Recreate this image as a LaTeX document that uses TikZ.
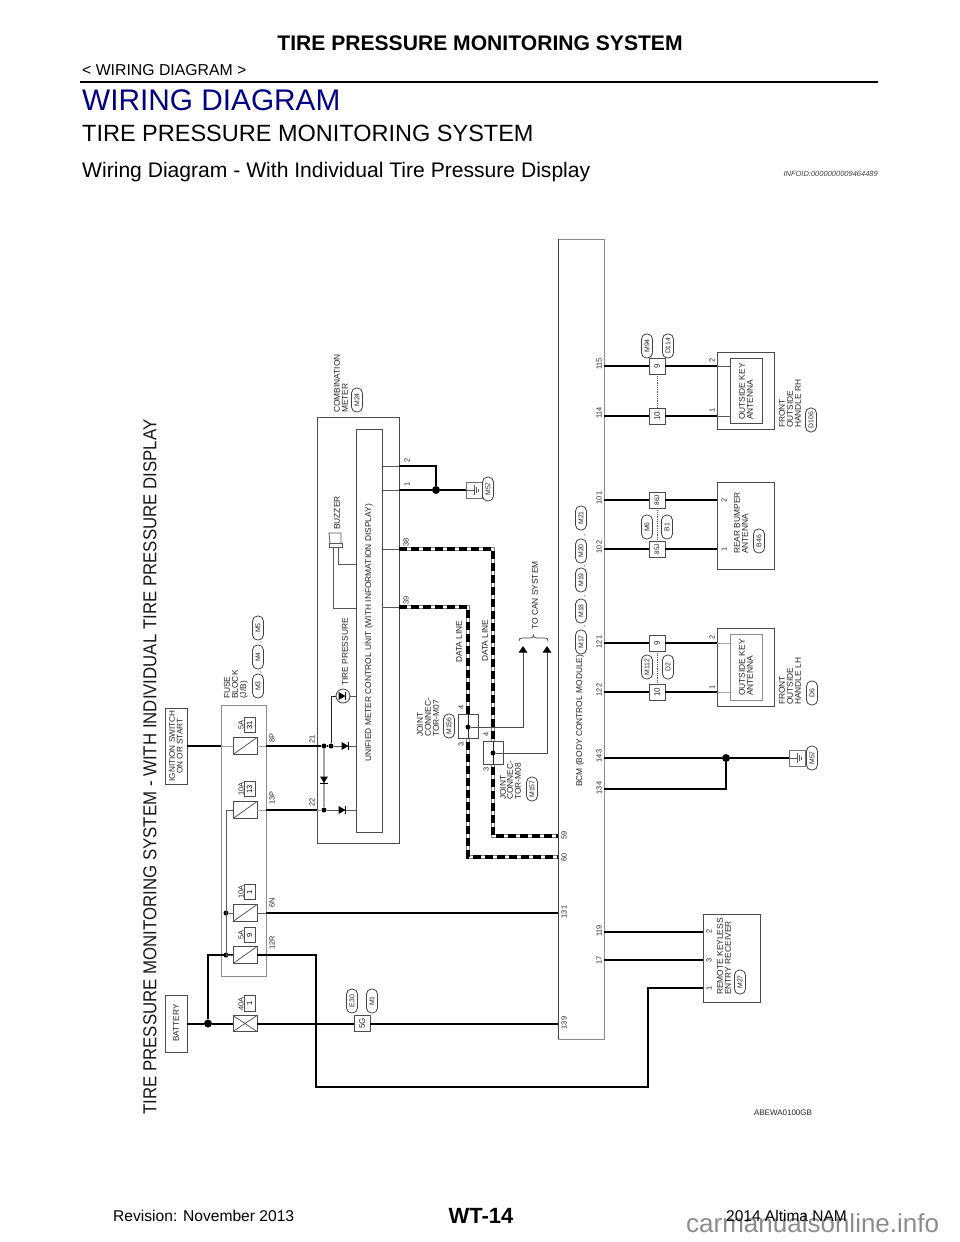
\documentclass[tikz,border=0pt]{standalone}
\usepackage{fontspec}
\setmainfont{Liberation Sans}
\usetikzlibrary{arrows.meta,calc}
\newcommand{\fs}[1]{\fontsize{#1}{#1}\selectfont}
\newcommand{\mybox}[6][bx]{\node[#1,minimum width={(#5-#3)*1pt},minimum height={(#6-#4)*1pt}] (#2) at ({(#3+#5)/2},{(#4+#6)/2}) {};}
\newcommand{\rtx}[4]{\node[rlab] (#1) at (#2,#3) {#4};}
\newcommand{\pin}[4]{\node[pinlab] (#1) at (#2,#3) {#4};}
\newcommand{\pill}[4]{\node[pillbox] (#1) at (#2,#3) {#4};}
\newcommand{\conn}[4]{\node[connbox] (#1) at (#2,#3) {#4};}
\newcommand{\diodeR}[2]{\fill[black] (#1-3.5,#2-4) -- (#1+3.5,#2) -- (#1-3.5,#2+4) -- cycle; \draw[black,line width=1pt] (#1+3.5,#2-4) -- (#1+3.5,#2+4);}
\newcommand{\fusebox}[5]{%
 \node[bx,minimum width=24pt,minimum height=17pt] (#1) at (245,#2) {};
 \draw[thin0] (#1.south west) -- (#1.north east);
 \node[pinlab] (#1a) at (241,#3) {#4};
 \node[bx,rotate=90,minimum width=15pt,minimum height=11pt,font=\fs{7.5}] (#1b) at (249.5,#3) {#5};}
\newcommand{\grnd}[3]{%
 \node[bx,draw=black!55,minimum width=16pt,minimum height=16pt] (#1) at (#2,#3) {};
 \draw[thin0] (#1.west) -- ++(8,0);
 \draw[thin0] (#2,#3-5) -- (#2,#3+5) (#2+2,#3-3.2) -- (#2+2,#3+3.2) (#2+4,#3-1.5) -- (#2+4,#3+1.5);}
\newcommand{\dataline}[1]{%
 \draw[draw=black!50,line width=4.4pt] #1;
 \draw[draw=white,line width=2.8pt] #1;
 \draw[data] #1;}
\tikzset{
 bx/.style={draw=black!70,line width=.8pt,inner sep=0pt,outer sep=0pt,fill=white},
 gbx/.style={bx,draw=black!45},
 rlab/.style={rotate=90,anchor=west,inner sep=0pt,font=\fs{8.4},text=black!85},
 pinlab/.style={rotate=90,inner sep=0pt,font=\fs{7.4},text=black!85},
 pillbox/.style={rotate=90,draw=black!75,line width=.8pt,rounded corners=5pt,minimum width=24pt,minimum height=11pt,inner sep=0pt,font=\fs{6.9},text=black!85},
 connbox/.style={rotate=90,draw=black!70,line width=.8pt,fill=white,minimum width=16pt,minimum height=16pt,inner sep=0pt,font=\fs{8},text=black!85},
 wire/.style={draw=black,line width=1.7pt},
 wireh/.style={draw=black,line width=2pt},
 thin0/.style={draw=black!65,line width=.8pt},
 thing/.style={draw=black!35,line width=.9pt},
 data/.style={draw=black,line width=3.6pt,dash pattern=on 8pt off 4pt},
 jdot/.style={circle,fill=black,inner sep=0pt,minimum size=5pt},
 bdot/.style={circle,fill=black,inner sep=0pt,minimum size=8pt},
 hd/.style={anchor=base west,inner sep=0pt},
}
\begin{document}
\begin{tikzpicture}[x=1pt,y=-1pt]
\useasboundingbox (0,0) rectangle (960,1242);
% page header
\node[inner sep=0pt,font=\fs{21.1}\bfseries] (title) at (480,43) {TIRE PRESSURE MONITORING SYSTEM};
\node[hd,font=\fs{15.8}] (crumb) at (82,75) {< WIRING DIAGRAM >};
\coordinate (ruleA) at (80,82);
\coordinate (ruleB) at (878,82);
\draw[black,line width=2.2pt] (ruleA) -- (ruleB);
\definecolor{headblue}{RGB}{0,0,130}
\node[hd,font=\fs{29.8},text=headblue] (h1) at (82,110) {WIRING DIAGRAM};
\node[hd,font=\fs{23.5}] (h2) at (82,141) {TIRE PRESSURE MONITORING SYSTEM};
\node[hd,font=\fs{21.1}] (h3) at (82,177) {Wiring Diagram - With Individual Tire Pressure Display};
\node[anchor=base east,inner sep=0pt,font=\fs{7.5}\itshape,text=black!75] (infoid) at (878,176) {INFOID:0000000009464489};
% big side title
\node[rotate=90,anchor=west,inner sep=0pt,font=\fs{18.7},text=black!90] (side) at (150,1115) {\scalebox{.9}[1]{TIRE PRESSURE MONITORING SYSTEM - WITH INDIVIDUAL TIRE PRESSURE DISPLAY}};
% footer
\node[anchor=base west,inner sep=0pt,font=\fs{26},text=black!45] (wm) at (686,1232) {carmanualsonline.info};
\node[anchor=base west,inner sep=0pt,font=\fs{15.6}] (rev) at (113,1221) {Revision: November 2013};
\node[inner sep=0pt,font=\fs{22}\bfseries] (page) at (481,1216) {WT-14};
\node[anchor=base east,inner sep=0pt,font=\fs{15.5}] (model) at (847,1221) {2014 Altima NAM};

% boxes
\mybox{ign}{165}{708}{187}{784}
\mybox{batt}{165}{995}{187}{1052}
\mybox[gbx]{fblock}{221}{705}{266}{976}
\mybox{combo}{317}{417}{399}{843}
\mybox{umc}{356}{429}{382}{832}
\mybox[gbx]{bcm}{558}{239}{604}{1039}
\draw[draw=black!75,line width=.9pt] (bcm.north west) -- (bcm.south west);
\mybox{ant1}{717}{352}{774}{429}
\mybox{ant1i}{730}{358}{762}{423}
\mybox{rear}{717}{482}{774}{569}
\mybox{ant2}{717}{628}{774}{706}
\mybox[gbx]{ant2i}{730}{634}{762}{700}
\mybox{rke}{703}{914}{760}{1002}

% box texts
\node[rotate=90,inner sep=0pt,font=\fs{8.2},align=center,text=black!85] (igntxt) at (176,746) {IGNITION SWITCH\\[-.5pt]ON OR START};
\node[rotate=90,inner sep=0pt,font=\fs{8.2},text=black!85] (batttxt) at (176,1023) {BATTERY};
\rtx{f1}{227}{699}{FUSE}\rtx{f2}{235}{699}{BLOCK}\rtx{f3}{244}{699}{(J/B)}
\pill{m3}{258}{686}{M3}\pill{m4}{258}{657}{M4}\pill{m5}{258}{628}{M5}
\node[pinlab] (c1) at (261,672) {,}; \node[pinlab] (c2) at (261,642) {,};
\rtx{cm1}{337}{413}{COMBINATION}\rtx{cm2}{345}{413}{METER}
\pill{m24}{357}{400}{M24}
\rtx{bz}{337}{530}{BUZZER}
\rtx{tp}{345}{686}{TIRE PRESSURE}
\rtx{um}{369}{762}{UNIFIED METER CONTROL UNIT (WITH INFORMATION DISPLAY)}
\rtx{dl1}{459}{663}{DATA LINE}\rtx{dl2}{485}{662}{DATA LINE}
\rtx{can}{535}{630}{TO CAN SYSTEM}
\rtx{j1a}{420}{737}{JOINT}\rtx{j1b}{428}{737}{CONNEC-}\rtx{j1c}{436}{737}{TOR-M07}
\pill{m156}{449}{726}{M156}
\rtx{j2a}{503}{800}{JOINT}\rtx{j2b}{510}{800}{CONNEC-}\rtx{j2c}{518}{800}{TOR-M08}
\pill{m157}{532}{789}{M157}
\rtx{bcmt}{580}{787}{BCM (BODY CONTROL MODULE)}
\pill{m17}{581}{642}{M17}\pill{m18}{581}{611}{M18}\pill{m19}{581}{580}{M19}\pill{m20}{581}{551}{M20}\pill{m21}{581}{518}{M21}
\node[pinlab] (c3) at (585,626) {,};\node[pinlab] (c4) at (585,596) {,};\node[pinlab] (c5) at (585,566) {,};\node[pinlab] (c6) at (585,535) {,};
\rtx{o1}{742}{420}{OUTSIDE KEY}\rtx{o2}{750}{420}{ANTENNA}
\rtx{fr1}{782}{428}{FRONT}\rtx{fr2}{790}{428}{OUTSIDE}\rtx{fr3}{798}{428}{HANDLE RH}
\pill{d106}{811}{420}{D106}
\rtx{r1}{737}{554}{REAR BUMPER}\rtx{r2}{745}{554}{ANTENNA}
\pill{b46}{759}{541}{B46}
\rtx{o3}{742}{696}{OUTSIDE KEY}\rtx{o4}{750}{696}{ANTENNA}
\rtx{fl1}{782}{705}{FRONT}\rtx{fl2}{790}{705}{OUTSIDE}\rtx{fl3}{798}{705}{HANDLE LH}
\pill{d6}{812}{693}{D6}
\rtx{k1}{720}{995}{REMOTE KEYLESS}\rtx{k2}{728}{995}{ENTRY RECEIVER}
\pill{m27}{740}{982}{M27}
\node[inner sep=0pt,font=\fs{8},text=black!85] (abe) at (783,1113) {ABEWA0100GB};

% fuses
\fusebox{fa}{746}{725}{5A}{31}
\fusebox{fb}{810}{789}{10A}{13}
\fusebox{fc}{913}{892}{10A}{1}
\fusebox{fd}{955}{935}{5A}{9}
\node[bx,minimum width=24pt,minimum height=16pt] (fe) at (245,1023.5) {};
\draw[thin0] (fe.south west) -- (fe.north east) (fe.north west) -- (fe.south east);
\node[pinlab] (fea) at (241,1004) {40A};
\node[bx,rotate=90,minimum width=16pt,minimum height=11pt,font=\fs{7.5}] (feb) at (249.5,1003) {1};

% connectors
\conn{c5g}{362}{1023.5}{5G}
\pill{e30}{352}{1001}{E30}\pill{m1}{372}{1001}{M1}
\conn{c115}{657}{366}{9}\conn{c114}{657}{416}{10}
\conn{c101}{657}{500}{\fs{6.5}86J}\conn{c102}{657}{549}{\fs{6.5}85J}
\conn{c121}{657}{643}{9}\conn{c122}{657}{692}{10}
\draw[thin0,densely dotted] (c115) -- (c114) (c101) -- (c102) (c121) -- (c122);
\pill{m94}{647}{346}{M94}\pill{d114}{668}{346}{D114}
\pill{m6}{647}{527}{M6}\pill{b1}{667}{527}{B1}
\pill{m112}{647}{667}{M112}\pill{d2}{668}{667}{D2}

% junction coordinates
\node[bdot] (jb) at (208,1023.5) {};
\node[jdot] (j955) at (226,955) {};
\node[jdot] (j913) at (226,913) {};
\node[jdot] (j21a) at (324,746) {};
\node[jdot] (j21b) at (331,746) {};
\node[jdot] (j22) at (324,810) {};

% power wires
\draw[wireh] (batt.east |- jb) -- (jb) -- (fe.west);
\draw[wireh] (fe.east) -- (c5g.north);
\draw[wireh] (c5g.south) -- (bcm.west |- c5g);
\draw[wireh] (jb) -- (208,955) -- (fd.west);
\draw[thin0,line width=1pt] (fb.west) -| (226,955) -- (fd.west);
\draw[thin0,line width=1pt] (j913) -- (fc.west);
\draw[wire] (ign.east |- fa) -- (fblock.west |- fa);
\draw[thing] (fblock.west |- fa) -- (fa.west) (fa.east) -- (fblock.east |- fa);
\draw[wireh] (fblock.east |- fa) -- (j21a);
\draw[wireh] (fblock.east |- fb) -- (combo.west |- fb);
\draw[thing] (fb.east) -- (fblock.east |- fb) (combo.west |- fb) -- (j22);
\draw[thin0] (j22) -- (umc.west |- j22) (j21b) -- (umc.west |- j21b);
\draw[thin0,line width=1pt] (fc.east) -- (fblock.east |- fc);
\draw[wire,line width=1.3pt] (fblock.east |- fc) -- (bcm.west |- fc);
\draw[wireh] (fd.east) -- (316,955) -- (316,1087) -- (648,1087) -- (648,988) -- (rke.west |- 648,988);
\draw[thing,line width=1.2pt] (j21a) -- (j22);
\draw[black,line width=1.1pt] (j21a) -- (j21b);
\diodeR{345}{746}
\diodeR{342}{810}
\fill[black] (320,776.5) -- (328,776.5) -- (324,783) -- cycle; \draw[black,line width=1pt] (320,783) -- (328,783);

% tire pressure lamp
\node[draw=black!75,line width=.8pt,circle,minimum size=14pt,inner sep=0pt,fill=white] (lamp) at (343,696) {};
\draw[black!85,line width=1pt] (j21b) -- (331,696) -- (lamp.west);
\draw[thin0] (lamp.east) -- (umc.west |- lamp);
\fill[black] (338.5,692) -- (338.5,700) -- (345.5,696) -- cycle; \draw[black,line width=1pt] (345.8,692) -- (345.8,700);

% buzzer
\coordinate (bzA) at (333,547);
\coordinate (bzB) at (338,547);
\draw[thin0] (329,547) -- (342,547) -- (342,543) -- (329,543) -- cycle;
\draw[thin0] (330,543) -- (329,533) -- (341,533) -- (341,543);
\draw[thin0] (bzA) -- (333,608) -- (umc.west |- 333,608);
\draw[thin0] (bzB) -- (338,564) -- (umc.west |- 338,564);

% meter ground
\coordinate (p2) at (umc.east |- 0,466);
\coordinate (p1) at (umc.east |- 0,490);
\draw[thin0] (p2) -- (combo.east |- p2) (p1) -- (combo.east |- p1);
\node[bdot,minimum size=8pt] (jg1) at (436,490) {};
\draw[wire] (combo.east |- p2) -| (jg1);
\draw[wire] (combo.east |- p1) -- (jg1);
\grnd{g1}{474}{490}
\draw[wire,line width=1.3pt] (jg1) -- (g1.west);
\pill{m57a}{488}{489}{M57}
\pin{p2l}{407}{460}{2}\pin{p1l}{407}{484}{1}
\draw[thin0] (umc.east |- 0,549) -- (combo.east |- 0,549) (umc.east |- 0,607) -- (combo.east |- 0,607);

% data lines
\coordinate (d38) at (combo.east |- 0,549);
\coordinate (d39) at (combo.east |- 0,607);
\dataline{(d38) -- (493,549) -- (493,836) -- (bcm.west |- 0,836)}
\dataline{(d39) -- (468,607) -- (468,857) -- (bcm.west |- 0,857)}
\mybox{j156}{458}{714}{478}{738}
\mybox{j157}{483}{741}{503}{764}
\draw[black!85,line width=1pt] (j156.north) -- (j156.south) (j157.north) -- (j157.south);
\node[jdot] (jd1) at (468,727) {};
\node[jdot] (jd2) at (493,753) {};
\coordinate (tip1) at (523,646);
\coordinate (tip2) at (547,646);
\draw[black!70,line width=.9pt,-{Triangle[width=8.5pt,length=6.5pt,fill=black,color=black]}] (jd1) -| (tip1);
\draw[black!70,line width=.9pt,-{Triangle[width=8.5pt,length=6.5pt,fill=black,color=black]}] (jd2) -| (tip2);
\draw[black!75,line width=.7pt] (519,641) .. controls (519,638.5) and (520,638) .. (523,638) -- (530,638) .. controls (532.5,638) and (533.5,637) .. (533.5,635) .. controls (533.5,637) and (534.5,638) .. (537,638) -- (544,638) .. controls (547,638) and (548,638.5) .. (548,641);
\pin{n4a}{461}{707}{4}\pin{n3a}{461}{744}{3}\pin{n4b}{486}{734}{4}\pin{n3b}{486}{769}{3}
\pin{n38}{406}{542}{38}\pin{n39}{406}{600}{39}\pin{n21}{312}{739}{21}\pin{n22}{312}{802}{22}
\pin{n59}{564}{835}{59}\pin{n60}{564}{857}{60}
\pin{n8p}{272}{738}{8P}\pin{n13p}{272}{798}{13P}\pin{n6n}{272}{903}{6N}\pin{n12r}{272}{943}{12R}
\pin{n131}{564}{912}{131}\pin{n139}{564}{1023}{139}

% right side wires
\foreach \a/\p in {c115/ant1,c114/ant1,c101/rear,c102/rear,c121/ant2,c122/ant2}{
 \draw[wireh] (bcm.east |- \a) -- (\a.north);
 \draw[wireh] (\a.south) -- (\p.west |- \a);
}
\draw[thin0] (ant1.west |- c115) -- (ant1i.west |- c115) (ant1.west |- c114) -- (ant1i.west |- c114);
\draw[thing] (ant2.west |- c121) -- (ant2i.west |- c121) (ant2.west |- c122) -- (ant2i.west |- c122);
\coordinate (w143) at (604,758);
\coordinate (w134) at (604,789);
\node[bdot] (jg2) at (726,758) {};
\grnd{g2}{797}{758}
\draw[wireh] (w143) -- (jg2) (w134) -| (jg2);
\draw[wire] (jg2) -- (g2.west);
\pill{m57b}{812}{758}{M57}
\draw[wireh] (bcm.east |- 0,932) -- (rke.west |- 0,932);
\draw[wireh] (bcm.east |- 0,960) -- (rke.west |- 0,960);
\pin{n115}{599}{364}{115}\pin{n114}{599}{413}{114}\pin{n101}{599}{498}{101}\pin{n102}{599}{547}{102}
\pin{n121}{599}{642}{121}\pin{n122}{599}{690}{122}\pin{n143}{599}{756}{143}\pin{n134}{599}{788}{134}
\pin{n119}{599}{931}{119}\pin{n17}{599}{960}{17}
\pin{a2}{712}{360}{2}\pin{a1}{712}{410}{1}
\pin{b2}{724}{500}{2}\pin{b1l}{724}{549}{1}
\pin{l2}{712}{637}{2}\pin{l1}{712}{687}{1}
\pin{k2l}{709}{931}{2}\pin{k3l}{709}{960}{3}\pin{k1l}{709}{988}{1}
\end{tikzpicture}
\end{document}
